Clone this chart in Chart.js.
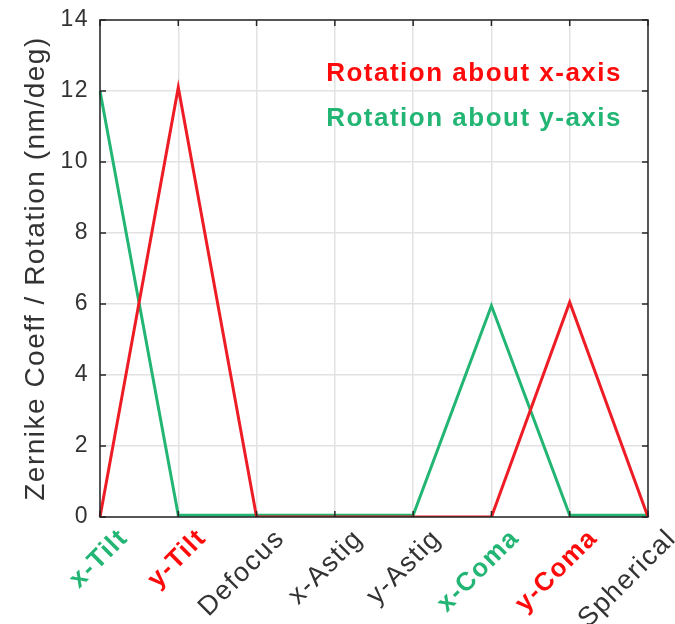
<!DOCTYPE html>
<html>
<head>
<meta charset="utf-8">
<script src="https://cdn.jsdelivr.net/npm/chart.js@4/dist/chart.umd.min.js"></script>
<style>
  html, body { margin: 0; padding: 0; background: #fff; }
  #wrap { width: 675px; height: 624px; }
</style>
</head>
<body>
<div id="wrap"><canvas id="myChart" width="675" height="624"></canvas></div>
<script>
// terms along the x axis
var terms = ["x-Tilt", "y-Tilt", "Defocus", "x-Astig", "y-Astig", "x-Coma", "y-Coma", "Spherical"];
// coefficient per degree of rotation
var rotX = [0, 12.1, 0, 0, 0, 0, 6.05, 0];
var rotY = [12, 0.05, 0.05, 0.05, 0.05, 5.95, 0.05, 0.05];
var yTicks = [0, 2, 4, 6, 8, 10, 12, 14];
var legendText = ["Rotation about x-axis", "Rotation about y-axis"];

var RED = "#ee1c25";
var RED_TXT = "#ff0a0a";
var GREEN = "#22b573";
var TXT = "#333333";
var FONT = "Arial, 'Liberation Sans', sans-serif";

// label gets the colour of the series that peaks there
function labelColor(i) {
    if (rotY[i] > 1) return GREEN;
    if (rotX[i] > 1) return RED_TXT;
    return TXT;
}

// MATLAB-ish box + inward ticks + in-plot legend text
var boxPlugin = {
    id: "box",
    beforeDraw: function(chart) {
        chart.ctx.letterSpacing = "1.5px";
    },
    afterDatasetsDraw: function(chart) {
        var ctx = chart.ctx, a = chart.chartArea;
        var xs = chart.scales.x, ys = chart.scales.y;
        ctx.save();
        ctx.strokeStyle = "#262626";
        ctx.lineWidth = 1.5;
        ctx.beginPath();
        for (var i = 0; i < xs.ticks.length; i++) {
            var px = xs.getPixelForTick(i);
            ctx.moveTo(px, a.bottom); ctx.lineTo(px, a.bottom - 6);
            ctx.moveTo(px, a.top); ctx.lineTo(px, a.top + 6);
        }
        for (var j = 0; j < ys.ticks.length; j++) {
            var py = ys.getPixelForTick(j);
            ctx.moveTo(a.left, py); ctx.lineTo(a.left + 6, py);
            ctx.moveTo(a.right, py); ctx.lineTo(a.right - 6, py);
        }
        ctx.stroke();
        ctx.strokeRect(a.left, a.top, a.right - a.left, a.bottom - a.top);

        ctx.font = "bold 26px " + FONT;
        ctx.textAlign = "right";
        ctx.textBaseline = "middle";
        var cols = [RED_TXT, GREEN];
        legendText.forEach(function(t, k) {
            ctx.fillStyle = cols[k];
            ctx.fillText(t, a.right - 26, a.top + 54 + k * 45);
        });
        ctx.restore();
    }
};

new Chart("myChart", {
    type: "line",
    data: {
        labels: terms,
        datasets: [{
            label: legendText[0],
            data: rotX,
            borderColor: RED,
            borderWidth: 3,
            pointRadius: 0,
            tension: 0,
            fill: false
        }, {
            label: legendText[1],
            data: rotY,
            borderColor: GREEN,
            borderWidth: 3,
            pointRadius: 0,
            tension: 0,
            fill: false
        }]
    },
    options: {
        responsive: false,
        animation: false,
        layout: { padding: { top: 20, right: 27, left: 0, bottom: 0 } },
        plugins: {
            legend: { display: false },
            tooltip: { enabled: false }
        },
        scales: {
            x: {
                offset: false,
                grid: { color: "#e2e2e2", lineWidth: 1.5, drawTicks: false },
                border: { display: false },
                ticks: {
                    autoSkip: false,
                    minRotation: 45,
                    maxRotation: 45,
                    padding: 6,
                    labelOffset: 24,
                    color: function(c) { return labelColor(c.index); },
                    font: function(c) {
                        var hl = labelColor(c.index) !== TXT;
                        return { family: FONT, size: hl ? 26 : 27, weight: hl ? "bold" : "normal" };
                    }
                },
                afterFit: function(s) {
                    s.height = 107;
                    s.paddingLeft = 0;
                    s.paddingRight = 0;
                }
            },
            y: {
                min: 0,
                max: 14,
                afterBuildTicks: function(s) {
                    s.ticks = yTicks.map(function(v) { return { value: v }; });
                },
                grid: { color: "#e2e2e2", lineWidth: 1.5, drawTicks: false },
                border: { display: false },
                ticks: {
                    color: TXT,
                    padding: 11,
                    font: { family: FONT, size: 23 }
                },
                title: {
                    display: true,
                    text: "Zernike Coeff / Rotation (nm/deg)",
                    color: TXT,
                    font: { family: FONT, size: 28 },
                    padding: { top: 19, bottom: 0 }
                },
                afterFit: function(s) {
                    s.width = 100;
                    s.paddingTop = 0;
                    s.paddingBottom = 0;
                }
            }
        }
    },
    plugins: [boxPlugin]
});
</script>
</body>
</html>
